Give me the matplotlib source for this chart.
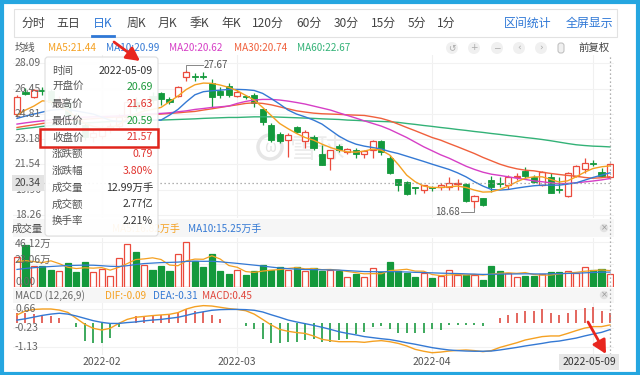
import numpy as np
import pandas as pd
import matplotlib
matplotlib.use("Agg")
import matplotlib.pyplot as plt
from matplotlib.patches import Rectangle, FancyBboxPatch, Circle
from matplotlib.transforms import blended_transform_factory as blend

plt.rcParams['font.family'] = ['Noto Sans CJK SC', 'DejaVu Sans']

# trading days on the chart (2022), by month
days = {1: [17, 18, 19, 20, 21, 24, 25, 26, 27, 28],
        2: [7, 8, 9, 10, 11, 14, 15, 16, 17, 18, 21, 22, 23, 24, 25, 28],
        3: [1, 2, 3, 4, 7, 8, 9, 10, 11, 14, 15, 16, 17, 18, 21, 22, 23, 24, 25, 28, 29, 30, 31],
        4: [1, 6, 7, 8, 11, 12, 13, 14, 15, 18, 19, 20, 21, 22, 25, 26, 27, 28, 29],
        5: [5, 6, 9]}
dates = pd.to_datetime(['2022-%02d-%02d' % (m, d) for m in days for d in days[m]])

opens = [24.83, 26.20, 25.92, 26.35, 26.30, 25.50, 25.60, 24.70, 24.10, 23.30,
         23.40, 23.80, 24.00, 24.60, 25.60, 25.20, 26.00, 26.14, 25.75, 25.96,
         27.20, 27.30, 27.28, 26.83, 26.31, 26.61, 25.96, 25.95, 26.03, 25.10,
         24.08, 23.50, 23.15, 23.98, 23.07, 23.33, 22.20, 21.92, 22.74, 22.35,
         22.46, 22.20, 22.46, 23.07, 21.98, 20.56, 20.41, 20.05, 19.86, 20.05,
         20.04, 20.04, 20.25, 20.25, 19.17, 19.33, 20.51, 20.30, 20.19, 20.69,
         21.12, 20.73, 20.19, 20.69, 19.97, 19.48, 20.77, 21.21, 21.64, 21.05, 20.69]
highs = [26.03, 26.46, 26.45, 26.53, 26.40, 26.00, 25.70, 24.90, 24.20, 23.80,
         24.00, 24.20, 24.80, 25.80, 25.90, 25.80, 26.20, 26.25, 25.92, 26.61,
         27.67, 27.48, 27.50, 27.05, 26.53, 26.79, 26.40, 26.03, 26.14, 25.17,
         24.19, 23.65, 23.54, 24.02, 23.76, 23.43, 22.79, 22.50, 22.85, 22.63,
         22.57, 22.46, 23.11, 23.15, 22.14, 20.62, 20.47, 20.08, 20.23, 20.12,
         20.30, 20.73, 20.62, 20.30, 19.54, 19.35, 20.77, 20.69, 20.84, 20.95,
         21.38, 20.84, 21.10, 20.95, 20.69, 21.06, 21.49, 21.92, 21.81, 21.27, 21.63]
lows = [24.62, 26.03, 25.85, 26.03, 25.40, 25.20, 24.50, 24.00, 23.10, 23.00,
        23.20, 23.60, 23.90, 24.50, 25.00, 25.00, 25.50, 25.38, 25.45, 25.88,
        26.95, 26.96, 27.05, 25.27, 25.81, 25.92, 25.88, 25.75, 25.27, 24.08,
        23.00, 22.90, 22.03, 23.54, 22.57, 22.46, 21.49, 21.20, 22.35, 22.24,
        21.98, 21.92, 21.98, 22.14, 20.90, 19.82, 19.54, 19.60, 19.69, 19.82,
        19.90, 19.86, 19.90, 19.11, 18.68, 18.85, 19.76, 20.04, 19.97, 20.51,
        20.62, 20.30, 20.12, 19.65, 19.65, 19.43, 20.73, 20.99, 21.42, 20.70, 20.59]
closes = [25.91, 26.12, 26.35, 26.28, 25.60, 25.80, 24.70, 24.20, 23.30, 23.60,
          23.80, 24.00, 24.60, 25.60, 25.20, 25.60, 25.70, 25.75, 25.58, 26.57,
          27.55, 27.22, 27.20, 25.92, 26.03, 26.03, 26.25, 25.88, 25.49, 24.30,
          23.15, 23.07, 23.43, 23.65, 23.65, 22.57, 21.49, 22.46, 22.46, 22.52,
          22.20, 22.40, 23.07, 22.35, 20.95, 20.19, 19.60, 20.00, 20.19, 20.00,
          20.19, 20.36, 20.30, 19.17, 19.50, 18.90, 20.04, 20.25, 20.73, 20.77,
          20.77, 20.41, 21.06, 19.69, 19.86, 21.00, 21.42, 21.64, 21.55, 20.78, 21.57]

ma5 = [24.73, 25.06, 25.32, 25.66, 25.60, 25.30, 25.00, 24.60, 24.20, 24.00,
       23.90, 23.90, 24.10, 24.50, 24.80, 25.00, 25.10, 25.23, 25.60, 25.97,
       26.40, 26.70, 26.81, 26.79, 26.68, 26.53, 26.31, 26.01, 25.71, 25.23,
       24.71, 24.19, 23.85, 23.54, 23.28, 23.11, 22.85, 22.63, 22.46, 22.35,
       22.33, 22.40, 22.53, 22.46, 22.14, 21.53, 20.84, 20.41, 20.13, 20.04,
       20.04, 20.08, 20.13, 20.04, 19.87, 19.74, 19.76, 19.91, 20.13, 20.41,
       20.64, 20.73, 20.73, 20.56, 20.39, 20.47, 20.73, 21.03, 21.27, 21.38, 21.44]
ma10 = [24.52, 24.67, 24.80, 24.93, 25.05, 25.10, 25.10, 25.00, 24.90, 24.80,
        24.60, 24.40, 24.30, 24.30, 24.40, 24.40, 24.40, 24.41, 24.73, 25.10,
        25.60, 26.05, 26.25, 26.31, 26.35, 26.40, 26.40, 26.38, 26.33, 26.14,
        25.81, 25.45, 25.06, 24.80, 24.62, 24.41, 24.15, 23.76, 23.37, 23.07,
        22.85, 22.72, 22.63, 22.53, 22.37, 22.24, 22.07, 21.90, 21.73, 21.55,
        21.38, 21.21, 20.99, 20.73, 20.41, 20.13, 19.91, 19.87, 19.91, 20.00,
        20.08, 20.15, 20.19, 20.19, 20.19, 20.26, 20.34, 20.51, 20.69, 20.84, 20.99]
ma20 = [24.15, 24.23, 24.30, 24.36, 24.42, 24.48, 24.54, 24.58, 24.60, 24.62,
        24.64, 24.66, 24.68, 24.72, 24.76, 24.80, 24.82, 24.84, 24.88, 24.95,
        25.01, 25.10, 25.16, 25.23, 25.27, 25.32, 25.49, 25.62, 25.71, 25.75,
        25.75, 25.71, 25.64, 25.55, 25.45, 25.32, 25.19, 25.06, 24.88, 24.71,
        24.54, 24.36, 24.19, 24.02, 23.80, 23.54, 23.28, 22.98, 22.68, 22.42,
        22.16, 21.94, 21.68, 21.42, 21.21, 21.03, 20.90, 20.82, 20.73, 20.64,
        20.56, 20.47, 20.41, 20.34, 20.28, 20.30, 20.34, 20.40, 20.46, 20.53, 20.62]
ma30 = [23.93, 24.02, 24.10, 24.19, 24.25, 24.30, 24.36, 24.42, 24.46, 24.50,
        24.54, 24.58, 24.62, 24.66, 24.70, 24.74, 24.77, 24.80, 24.84, 24.88,
        24.93, 24.97, 25.06, 25.14, 25.23, 25.32, 25.40, 25.49, 25.53, 25.49,
        25.40, 25.27, 25.14, 25.01, 24.93, 24.86, 24.82, 24.80, 24.78, 24.75,
        24.73, 24.71, 24.62, 24.52, 24.36, 24.15, 23.93, 23.72, 23.50, 23.28,
        23.11, 22.89, 22.68, 22.46, 22.24, 21.99, 21.77, 21.55, 21.38, 21.25,
        21.16, 21.12, 21.03, 20.95, 20.88, 20.82, 20.77, 20.69, 20.64, 20.67, 20.74]
ma60 = [23.80, 23.87, 23.93, 24.00, 24.05, 24.10, 24.14, 24.18, 24.22, 24.25,
        24.28, 24.31, 24.33, 24.35, 24.37, 24.39, 24.40, 24.41, 24.43, 24.45,
        24.47, 24.49, 24.52, 24.54, 24.56, 24.58, 24.58, 24.60, 24.62, 24.62,
        24.62, 24.60, 24.58, 24.56, 24.54, 24.52, 24.49, 24.47, 24.45, 24.41,
        24.39, 24.36, 24.34, 24.32, 24.30, 24.26, 24.19, 24.13, 24.06, 24.00,
        23.93, 23.87, 23.80, 23.74, 23.67, 23.61, 23.54, 23.48, 23.41, 23.35,
        23.28, 23.22, 23.15, 23.07, 22.98, 22.89, 22.81, 22.76, 22.72, 22.70, 22.67]

# volume, 万手
vol = [30.7, 42.9, 21.8, 21.1, 17.3, 16.3, 24.3, 15.4, 25.3, 15.4,
       18.9, 11.5, 29.5, 44.5, 36.2, 22.1, 17.3, 21.1, 16.0, 33.3,
       46.12, 26.3, 20.5, 34.0, 16.3, 13.1, 17.3, 12.2, 16.0, 22.7,
       17.9, 20.5, 17.9, 20.5, 16.3, 19.0, 16.3, 17.9, 16.3, 9.9,
       13.1, 9.9, 19.5, 15.4, 25.9, 16.3, 14.1, 9.9, 14.7, 9.0,
       10.9, 17.0, 12.2, 12.2, 12.2, 7.4, 21.8, 16.3, 14.7, 9.9,
       11.5, 11.5, 13.1, 15.4, 15.4, 16.3, 14.7, 20.5, 17.3, 18.6, 12.99]
vma5 = [26.0, 27.0, 26.0, 25.0, 26.8, 23.9, 20.2, 18.9, 19.7, 19.3,
        19.9, 17.3, 20.1, 23.9, 28.1, 28.8, 29.9, 28.2, 22.5, 21.8,
        26.8, 28.6, 28.4, 32.0, 28.6, 22.0, 20.2, 15.8, 15.0, 16.3,
        17.2, 17.9, 19.0, 19.9, 18.6, 18.8, 17.8, 18.0, 17.2, 15.9,
        14.7, 13.5, 13.7, 13.6, 16.8, 17.4, 18.2, 16.3, 16.2, 12.8,
        11.7, 12.3, 12.8, 12.3, 12.9, 12.2, 13.2, 14.0, 14.5, 14.0,
        14.8, 12.8, 12.1, 12.3, 13.4, 14.3, 15.0, 16.1, 16.8, 17.5, 16.82]
vma10 = [18.0, 19.0, 19.8, 20.5, 21.0, 21.5, 22.0, 22.2, 22.4, 22.3,
         21.8, 21.2, 21.0, 21.8, 23.0, 24.0, 24.5, 25.0, 25.2, 25.5,
         26.2, 26.5, 26.3, 26.4, 25.8, 25.0, 24.2, 23.3, 22.4, 21.5,
         20.4, 19.5, 18.8, 18.3, 17.9, 17.8, 17.6, 17.5, 17.3, 16.8,
         16.3, 15.8, 15.7, 15.6, 15.8, 15.6, 15.4, 15.0, 14.8, 14.5,
         14.2, 14.0, 13.8, 13.5, 13.2, 12.9, 13.0, 13.2, 13.3, 13.4,
         13.5, 13.4, 13.4, 13.5, 13.7, 13.9, 14.1, 14.5, 14.9, 15.2, 15.25]

dif = [0.38, 0.57, 0.64, 0.66, 0.66, 0.61, 0.50, 0.22, -0.06, -0.25,
       -0.33, -0.25, -0.02, 0.17, 0.27, 0.31, 0.35, 0.38, 0.41, 0.49,
       0.66, 0.77, 0.82, 0.80, 0.74, 0.68, 0.64, 0.58, 0.42, 0.17,
       -0.09, -0.30, -0.39, -0.45, -0.49, -0.61, -0.77, -0.83, -0.88, -0.88,
       -0.88, -0.91, -0.86, -0.83, -0.88, -0.96, -1.08, -1.24, -1.33, -1.40,
       -1.37, -1.32, -1.29, -1.27, -1.30, -1.35, -1.30, -1.15, -1.04, -0.93,
       -0.80, -0.72, -0.64, -0.61, -0.61, -0.49, -0.36, -0.24, -0.17, -0.17, -0.09]
dea = [0.14, 0.20, 0.28, 0.36, 0.42, 0.46, 0.42, 0.33, 0.22, 0.11,
       0.03, -0.02, -0.02, 0.02, 0.05, 0.10, 0.14, 0.17, 0.22, 0.27,
       0.36, 0.46, 0.53, 0.60, 0.63, 0.64, 0.64, 0.63, 0.60, 0.52,
       0.39, 0.27, 0.14, 0.05, -0.03, -0.11, -0.20, -0.30, -0.41, -0.49,
       -0.56, -0.64, -0.69, -0.74, -0.78, -0.85, -0.93, -1.00, -1.08, -1.16,
       -1.22, -1.27, -1.30, -1.32, -1.33, -1.33, -1.32, -1.27, -1.21, -1.15,
       -1.08, -1.02, -0.96, -0.89, -0.85, -0.78, -0.71, -0.61, -0.52, -0.44, -0.31]
macd = [0.45, 0.45, 0.42, 0.38, 0.32, 0.25, -0.02, -0.17, -0.85, -0.93,
        -0.93, -0.72, -0.17, 0.05, 0.33, 0.33, 0.36, 0.38, 0.36, 0.46,
        0.64, 0.58, 0.53, 0.40, 0.17, 0.02, -0.02, -0.14, -0.30, -0.77,
        -0.93, -0.93, -0.88, -0.88, -0.80, -0.77, -0.90, -0.88, -0.80, -0.77,
        -0.50, -0.41, -0.17, -0.14, -0.30, -0.46, -0.49, -0.49, -0.46, -0.30,
        -0.33, -0.10, -0.10, -0.10, -0.10, -0.14, -0.02, 0.22, 0.38, 0.49,
        0.58, 0.58, 0.64, 0.46, 0.38, 0.49, 0.61, 0.69, 0.74, 0.58, 0.45]

price_ticks = [28.09, 26.45, 24.81, 23.18, 21.54, 19.90, 18.26]
vol_ticks = [46.12, 23.06, 0.00]
macd_ticks = [0.66, -0.23, -1.13]
cross_price = 20.34
amount_text = '2.77亿'
turnover_text = '2.21%'

tabs = ['分时', '五日', '日K', '周K', '月K', '季K', '年K', '120分', '60分', '30分', '15分', '5分', '1分']
tab_x = [33, 68, 103, 136, 167, 199, 231, 268, 309, 346, 384, 417, 446]

RED = '#eb4b3d'
GREEN = '#14993c'
C5, C10, C20, C30, C60 = '#f5a122', '#3479d4', '#d63fc6', '#f0603c', '#33b277'
GREY = '#666666'

W, H = 640, 375
fig = plt.figure(figsize=(6.4, 3.75), dpi=100)
fig.patch.set_facecolor('white')


def box(x0, y0, x1, y1):
    return [x0 / W, 1 - y1 / H, (x1 - x0) / W, (y1 - y0) / H]


ax_k = fig.add_axes(box(13, 55, 614, 218))
ax_v = fig.add_axes(box(13, 238, 614, 287))
ax_m = fig.add_axes(box(13, 303, 614, 355))
top = fig.add_axes([0, 0, 1, 1], zorder=10)
top.set_xlim(0, W)
top.set_ylim(H, 0)
top.axis('off')

n = len(closes)
idx = np.arange(n)
ppb = (610 - 17) / (n - 1)
xlo, xhi = (13 - 17) / ppb, (n - 1) + (614 - 610) / ppb
month_starts = [i for i in range(1, n) if dates[i].month != dates[i - 1].month]

for ax in (ax_k, ax_v, ax_m):
    ax.set_xlim(xlo, xhi)
    ax.set_axis_off()
    for m in month_starts:
        ax.axvline(m, color='#f0f0f0', lw=0.8, zorder=0)

ax_k.set_ylim(18.06, 28.63)
ax_v.set_ylim(0, 50.2)
ax_m.set_ylim(-1.507, 0.943)

# ---- candlestick panel
for v in price_ticks:
    ax_k.axhline(v, color='#f2f2f2', lw=0.8, zorder=0)

# watermark
wm = top.transData
ax_k.add_patch(Circle((270, 147), 12, transform=wm, fill=False, ec='#e6e6e6', lw=2.5, zorder=1))
ax_k.text(270, 148, 'ω', transform=wm, ha='center', va='center', fontsize=11, color='#e4e4e4', zorder=1)
ax_k.text(290, 150, '雪球', transform=wm, ha='left', va='center', fontsize=20, color='#ececec', zorder=1)

for i in idx:
    o, h, l, c = opens[i], highs[i], lows[i], closes[i]
    b0, b1 = min(o, c), max(o, c)
    b1 = max(b1, b0 + 0.04)
    if c >= o:
        ax_k.add_patch(Rectangle((i - 0.36, b0), 0.72, b1 - b0, fc='white', ec=RED, lw=0.9, zorder=3))
        ax_k.vlines(i, b1, h, color=RED, lw=0.9, zorder=3)
        ax_k.vlines(i, l, b0, color=RED, lw=0.9, zorder=3)
    else:
        ax_k.vlines(i, l, h, color=GREEN, lw=0.9, zorder=3)
        ax_k.add_patch(Rectangle((i - 0.36, b0), 0.72, b1 - b0, fc=GREEN, ec=GREEN, lw=0.6, zorder=3))

for ser, col in ((ma60, C60), (ma30, C30), (ma20, C20), (ma10, C10), (ma5, C5)):
    ax_k.plot(idx, ser, color=col, lw=1.0, zorder=4)

# high / low marks
imax = int(np.argmax(highs))
imin = int(np.argmin(lows))
ax_k.plot([imax, imax, imax + 1.9], [highs[imax], highs[imax] + 0.3, highs[imax] + 0.3], color='#888', lw=0.7, zorder=5)
ax_k.text(imax + 2.0, highs[imax] + 0.3, '%.2f' % highs[imax], ha='left', va='center', fontsize=7, color='#555', zorder=5)
ax_k.plot([imin, imin, imin - 1.6], [lows[imin], lows[imin] - 0.25, lows[imin] - 0.25], color='#888', lw=0.7, zorder=5)
ax_k.text(imin - 1.7, lows[imin] - 0.25, '%.2f' % lows[imin], ha='right', va='center', fontsize=7, color='#555', zorder=5)

# crosshair
ax_k.plot([44, 610], [cross_price, cross_price], transform=blend(top.transData, ax_k.transData),
          color='#999', lw=0.9, ls=(0, (1, 2.2)), zorder=5)

tk = blend(top.transData, ax_k.transData)
for v in price_ticks:
    ax_k.text(15, v, '%.2f' % v, transform=tk, ha='left', va='center', fontsize=7.5, color=GREY, zorder=8)
ax_k.text(15, cross_price, '%.2f' % cross_price, transform=tk, ha='left', va='center', fontsize=7.5,
          color='#444', zorder=9, bbox=dict(boxstyle='square,pad=0.3', fc='#e3e3e3', ec='none'))

# ---- volume panel
for v in vol_ticks:
    ax_v.axhline(v, color='#f2f2f2', lw=0.8, zorder=0)
ups = np.array(closes) >= np.array(opens)
ax_v.bar(idx, vol, width=0.72, color=np.where(ups, 'white', GREEN),
         edgecolor=np.where(ups, RED, GREEN), linewidth=0.9, zorder=3)
ax_v.plot(idx, vma5, color=C5, lw=0.9, zorder=4)
ax_v.plot(idx, vma10, color=C10, lw=0.9, zorder=4)
tv = blend(top.transData, ax_v.transData)
ax_v.text(15, vol_ticks[0] - 1.5, '%.2f万' % vol_ticks[0], transform=tv, ha='left', va='center', fontsize=7.5, color=GREY, zorder=8)
ax_v.text(15, vol_ticks[1], '%.2f万' % vol_ticks[1], transform=tv, ha='left', va='bottom', fontsize=7.5, color=GREY, zorder=8)
ax_v.text(15, vol_ticks[2], '%.2f' % vol_ticks[2], transform=tv, ha='left', va='bottom', fontsize=7.5, color=GREY, zorder=8)

# ---- MACD panel
for v in macd_ticks:
    ax_m.axhline(v, color='#f2f2f2', lw=0.8, zorder=0)
ax_m.vlines(idx, 0, macd, colors=np.where(np.array(macd) > 0, '#e25a52', '#2ea350'), lw=1.3, zorder=3)
ax_m.plot(idx, dif, color=C5, lw=1.0, zorder=4)
ax_m.plot(idx, dea, color=C10, lw=1.0, zorder=4)
tm = blend(top.transData, ax_m.transData)
for v in macd_ticks:
    ax_m.text(15, v, '%.2f' % v, transform=tm, ha='left', va='center', fontsize=7.5, color=GREY, zorder=8)

td = blend(ax_m.transData, top.transData)
for m in month_starts:
    top.text(m, 362, dates[m].strftime('%Y-%m'), transform=td, ha='center', va='center', fontsize=7.5, color='#555')
top.text(616, 362, dates[-1].strftime('%Y-%m-%d'), ha='right', va='center', fontsize=7.5, color='#333',
         bbox=dict(boxstyle='square,pad=0.3', fc='#e6e6e6', ec='none'))

# vertical crosshair through all panels
top.plot([n - 1, n - 1], [57, 355], transform=blend(ax_k.transData, top.transData),
         color='#999', lw=0.9, ls=(0, (1, 2.2)), zorder=1)

# ---- header rows
top.add_patch(Rectangle((14, 9), 603, 28, fill=False, ec='#e2e2e2', lw=0.8))
for t, x in zip(tabs, tab_x):
    top.text(x, 23, t, ha='center', va='center', fontsize=8.6, color='#2f78d6' if t == '日K' else '#444')
top.plot([92, 114], [36, 36], color='#2f78d6', lw=2)
top.text(528, 23, '区间统计', ha='center', va='center', fontsize=8.6, color='#2f78d6')
top.text(589, 23, '全屏显示', ha='center', va='center', fontsize=8.6, color='#2f78d6')

top.text(15, 48, '均线', ha='left', va='center', fontsize=7.5, color='#555')
ma_x = [48, 106, 169, 234, 297]
for (name, ser, col), x in zip((('MA5', ma5, C5), ('MA10', ma10, C10), ('MA20', ma20, C20),
                                ('MA30', ma30, C30), ('MA60', ma60, C60)), ma_x):
    top.text(x, 48, '%s:%.2f' % (name, ser[-1]), ha='left', va='center', fontsize=7.2, color=col)
for x, g in zip([452, 474, 497, 519, 541], ['↺', '+', '−', '‹', '›']):
    top.add_patch(Circle((x, 48), 6, fc='#f0f0f0', ec='none'))
    top.text(x, 48, g, ha='center', va='center', fontsize=6.5, color='#aaa', family=['DejaVu Sans'])
top.add_patch(FancyBboxPatch((558, 43), 6, 10, boxstyle='round,pad=0,rounding_size=2.5', fc='#f0f0f0', ec='#bbb', lw=0.7))
top.text(578, 48, '前复权', ha='left', va='center', fontsize=7.5, color='#444')

# volume header
top.add_patch(Rectangle((13, 219), 601, 18, fc='#f6f6f6', ec='none', zorder=0))
top.text(12, 229, '成交量', ha='left', va='center', fontsize=7.5, color='#555')
top.text(180, 229, 'MA5:%.2f万手' % vma5[-1], ha='right', va='center', fontsize=7.2, color=C5)
top.text(188, 229, 'MA10:%.2f万手' % vma10[-1], ha='left', va='center', fontsize=7.2, color=C10)
# macd header
top.add_patch(Rectangle((13, 288), 601, 15, fc='#f6f6f6', ec='none', zorder=0))
top.text(15, 296, 'MACD (12,26,9)', ha='left', va='center', fontsize=7.2, color='#666')
top.text(105, 296, 'DIF:%.2f' % dif[-1], ha='left', va='center', fontsize=7.2, color=C5)
top.text(153, 296, 'DEA:%.2f' % dea[-1], ha='left', va='center', fontsize=7.2, color=C10)
top.text(202, 296, 'MACD:%.2f' % macd[-1], ha='left', va='center', fontsize=7.2, color='#e0463c')
for y in (228, 295):
    top.add_patch(Circle((604, y), 4.2, fc='#e2e2e2', ec='none'))
    top.text(604, y, '×', ha='center', va='center', fontsize=6, color='#999', family=['DejaVu Sans'])

# ---- tooltip
prev_close = closes[-2]
chg = closes[-1] - prev_close
tip_labels = ['时间', '开盘价', '最高价', '最低价', '收盘价', '涨跌额', '涨跌幅', '成交量', '成交额', '换手率']
tip_values = [dates[-1].strftime('%Y-%m-%d'), '%.2f' % opens[-1], '%.2f' % highs[-1], '%.2f' % lows[-1],
              '%.2f' % closes[-1], '%.2f' % chg, '%.2f%%' % (chg / prev_close * 100),
              '%.2f万手' % vol[-1], amount_text, turnover_text]


def tone(v):
    return '#e0332e' if v > prev_close else '#1e9a3c'


tip_colors = ['#333', tone(opens[-1]), tone(highs[-1]), tone(lows[-1]), tone(closes[-1]),
              tone(closes[-1]), tone(closes[-1]), '#333', '#333', '#333']
top.add_patch(FancyBboxPatch((45, 57), 113, 179, boxstyle='round,pad=0,rounding_size=3',
                             fc='white', ec='#dcdcdc', lw=0.8, alpha=0.93, zorder=20))
for k, (lab, val, col) in enumerate(zip(tip_labels, tip_values, tip_colors)):
    y = 70.7 + 16.7 * k
    top.text(52, y, lab, ha='left', va='center', fontsize=7.6, color='#555', zorder=21)
    top.text(153, y, val, ha='right', va='center', fontsize=7.6, color=col, zorder=21)
top.add_patch(Rectangle((40, 129), 118, 18, fill=False, ec='#e0241b', lw=1.8, zorder=22))

# ---- red arrows
arrow = dict(arrowstyle='-|>,head_length=0.8,head_width=0.42', color='#e8261f', lw=2, shrinkA=0, shrinkB=0)
top.annotate('', xy=(140, 61), xytext=(114, 42), arrowprops=arrow, zorder=23)
top.annotate('', xy=(606, 354), xytext=(588, 322), arrowprops=arrow, zorder=23)

# outer frame
top.add_patch(Rectangle((1.5, 1.5), 636, 372, fill=False, ec='#25a6e0', lw=3, zorder=30))

fig.savefig('out.png', dpi=100, facecolor='white')
